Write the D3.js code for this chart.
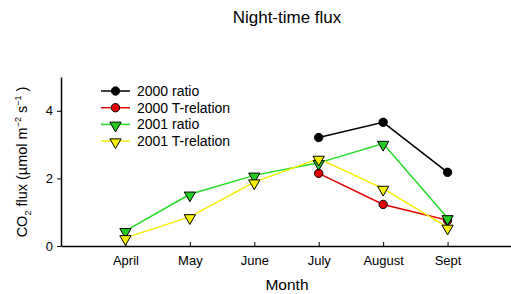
<!DOCTYPE html>
<html>
<head>
<meta charset="utf-8">
<script src="https://cdn.jsdelivr.net/npm/d3@7"></script>
<style>
  body { margin: 0; background: #fff; }
  svg { font-family: "Liberation Sans", Arial, sans-serif; }
</style>
</head>
<body>
<div id="chart"></div>
<script>
const months = [4, 5, 6, 7, 8, 9]
const monthNames = ['April', 'May', 'June', 'July', 'August', 'Sept']
const yTicks = [0, 2, 4]

const ratio2000 = [null, null, null, 3.21, 3.66, 2.18]
const trel2000 = [null, null, null, 2.15, 1.23, 0.76]
const ratio2001 = [0.45, 1.53, 2.09, 2.46, 3.03, 0.83]
const trel2001 = [0.24, 0.86, 1.89, 2.59, 1.70, 0.55]

const series = [
  { name: '2000 ratio', values: ratio2000, line: '#000000', fill: '#000000', shape: 'circle' },
  { name: '2000 T-relation', values: trel2000, line: '#e00000', fill: '#e00000', shape: 'circle' },
  { name: '2001 ratio', values: ratio2001, line: '#22dd22', fill: '#22cc22', shape: 'tri' },
  { name: '2001 T-relation', values: trel2001, line: '#f5f000', fill: '#f5f000', shape: 'tri' }
]

const width = 511
const height = 294
const margin = { left: 61, right: 0, top: 77, bottom: 48 }

const svg = d3.select('#chart').append('svg')
  .attr('width', width)
  .attr('height', height)

const xScale = d3.scaleLinear()
  .domain([3, 10])
  .range([margin.left, 512])

const yScale = d3.scaleLinear()
  .domain([0, 5])
  .range([height - margin.bottom, margin.top])

// axes
const xAxis = d3.axisBottom(xScale)
  .tickValues(months)
  .tickFormat((d, i) => monthNames[i])
  .tickSizeInner(-4)
  .tickSizeOuter(0)
  .tickPadding(10)
const gx = svg.append('g')
  .attr('transform', `translate(0,${yScale(0)})`)
  .call(xAxis)
gx.select('.domain').attr('stroke', '#000').attr('stroke-width', 1.5)
gx.selectAll('text').attr('font-size', 13).attr('fill', '#000')

const yAxis = d3.axisLeft(yScale)
  .tickValues(yTicks)
  .tickFormat(d3.format('d'))
  .tickSizeInner(4)
  .tickSizeOuter(0)
  .tickPadding(4)
const gy = svg.append('g')
  .attr('transform', `translate(${margin.left},0)`)
  .call(yAxis)
gy.select('.domain').attr('stroke', '#000').attr('stroke-width', 1.5)
gy.selectAll('text').attr('font-size', 13).attr('fill', '#000')

// title and labels
svg.append('text')
  .attr('x', 287).attr('y', 23)
  .attr('text-anchor', 'middle')
  .attr('font-size', 17)
  .text('Night-time flux')

svg.append('text')
  .attr('x', 287).attr('y', 290)
  .attr('text-anchor', 'middle')
  .attr('font-size', 15.5)
  .text('Month')

const ylab = svg.append('text')
  .attr('transform', 'translate(27,162) rotate(-90)')
  .attr('text-anchor', 'middle')
  .attr('font-size', 14.5)
ylab.append('tspan').text('CO')
ylab.append('tspan').attr('dy', 4).attr('font-size', 9).text('2')
ylab.append('tspan').attr('dy', -4).text(' flux (µmol m')
ylab.append('tspan').attr('dy', -6).attr('font-size', 9).text('−2')
ylab.append('tspan').attr('dy', 6).text(' s')
ylab.append('tspan').attr('dy', -6).attr('font-size', 9).text('−1')
ylab.append('tspan').attr('dy', 6).text(' )')

const tri = d3.symbol().type(d3.symbolTriangle).size(55)

const drawMarker = (g, s, x, y) => {
  if (s.shape === 'circle') {
    g.append('circle')
      .attr('cx', x).attr('cy', y).attr('r', 4.2)
      .attr('fill', s.fill).attr('stroke', '#000').attr('stroke-width', 1)
  } else {
    g.append('path')
      .attr('d', tri())
      .attr('transform', `translate(${x},${y + 1}) rotate(180)`)
      .attr('fill', s.fill).attr('stroke', '#000').attr('stroke-width', 1)
  }
}

const line = d3.line()
  .defined(d => d.v !== null)
  .x(d => xScale(d.m))
  .y(d => yScale(d.v))

series.forEach(s => {
  const pts = months.map((m, i) => ({ m: m, v: s.values[i] }))
  svg.append('path')
    .datum(pts)
    .attr('d', line)
    .attr('fill', 'none')
    .attr('stroke', s.line)
    .attr('stroke-width', 1.5)
})

series.forEach(s => {
  const g = svg.append('g')
  months.forEach((m, i) => {
    if (s.values[i] !== null) drawMarker(g, s, xScale(m), yScale(s.values[i]))
  })
})

// legend
const legend = svg.append('g')
series.forEach((s, i) => {
  const y = 91 + i * 16.7
  legend.append('line')
    .attr('x1', 101).attr('x2', 130)
    .attr('y1', y).attr('y2', y)
    .attr('stroke', s.line).attr('stroke-width', 1.5)
  drawMarker(legend, s, 115.5, y)
  legend.append('text')
    .attr('x', 137).attr('y', y + 5)
    .attr('font-size', 14)
    .text(s.name)
})
</script>
</body>
</html>
